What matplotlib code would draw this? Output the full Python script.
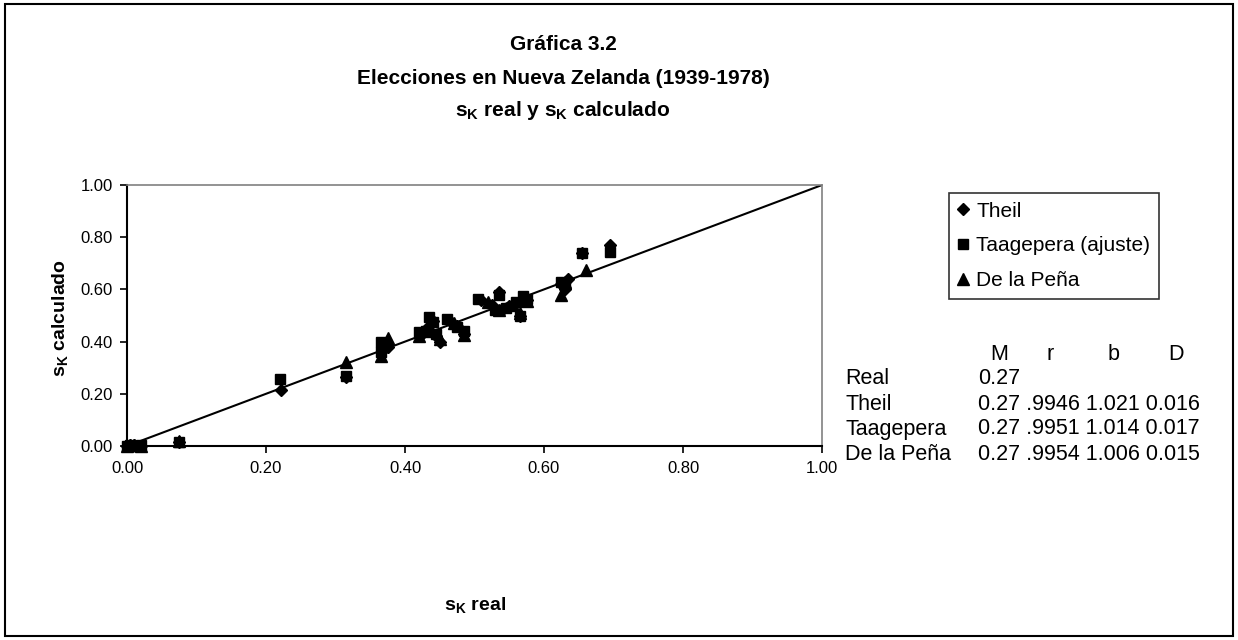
import matplotlib
matplotlib.use("Agg")
import matplotlib.pyplot as plt
from matplotlib.patches import Rectangle
from matplotlib.lines import Line2D

plt.rcParams['font.family'] = ['Liberation Sans', 'DejaVu Sans']
plt.rcParams['mathtext.fontset'] = 'custom'
plt.rcParams['mathtext.rm'] = 'Liberation Sans:bold'
plt.rcParams['mathtext.it'] = 'Liberation Sans:bold'
plt.rcParams['mathtext.bf'] = 'Liberation Sans:bold'
plt.rcParams['mathtext.default'] = 'rm'

# ---- data (s_K real, s_K calculado) ----
theil_x = [0.000, 0.005, 0.010, 0.020, 0.075, 0.222, 0.315, 0.370, 0.375,
           0.425, 0.435, 0.440, 0.445, 0.450, 0.465, 0.475, 0.485,
           0.510, 0.525, 0.535, 0.540, 0.550, 0.565, 0.570, 0.575,
           0.625, 0.630, 0.635, 0.655, 0.695]
theil_y = [0.000, 0.005, 0.005, 0.000, 0.015, 0.215, 0.265, 0.370, 0.380,
           0.430, 0.460, 0.480, 0.420, 0.400, 0.480, 0.460, 0.430,
           0.560, 0.540, 0.590, 0.520, 0.535, 0.500, 0.555, 0.560,
           0.620, 0.600, 0.640, 0.740, 0.770]

taag_x = [0.000, 0.005, 0.010, 0.020, 0.075, 0.220, 0.315, 0.365, 0.370,
          0.365, 0.420, 0.430, 0.435, 0.440, 0.445, 0.460, 0.475, 0.485,
          0.505, 0.530, 0.535, 0.545, 0.560, 0.565, 0.570, 0.575,
          0.625, 0.630, 0.655, 0.695]
taag_y = [0.000, 0.005, 0.000, 0.005, 0.015, 0.255, 0.270, 0.400, 0.380,
          0.360, 0.435, 0.440, 0.495, 0.475, 0.430, 0.485, 0.455, 0.440,
          0.565, 0.520, 0.580, 0.530, 0.550, 0.500, 0.575, 0.565,
          0.630, 0.615, 0.740, 0.745]

pena_x = [0.000, 0.005, 0.010, 0.020, 0.075, 0.315, 0.365, 0.375,
          0.420, 0.435, 0.450, 0.470, 0.485,
          0.520, 0.535, 0.555, 0.565, 0.575,
          0.625, 0.630, 0.660]
pena_y = [0.000, 0.005, 0.005, 0.000, 0.020, 0.320, 0.345, 0.415,
          0.420, 0.440, 0.410, 0.470, 0.425,
          0.550, 0.520, 0.540, 0.510, 0.555,
          0.580, 0.630, 0.675]

xticks = [0.0, 0.2, 0.4, 0.6, 0.8, 1.0]
yticks = [0.0, 0.2, 0.4, 0.6, 0.8, 1.0]

series_names = ["Theil", "Taagepera (ajuste)", "De la Peña"]

table_cols = ["M", "r", "b", "D"]
table_rows = ["Real", "Theil", "Taagepera", "De la Peña"]
table_vals = ["0.27",
              "0.27 .9946 1.021 0.016",
              "0.27 .9951 1.014 0.017",
              "0.27 .9954 1.006 0.015"]

W, H = 1238, 640
fig = plt.figure(figsize=(W / 100, H / 100), dpi=100)
fig.patch.set_facecolor("white")

# outer border
fig.patches.append(Rectangle((5 / W, 4 / H), (W - 10) / W, (H - 8) / H,
                             transform=fig.transFigure, fill=False,
                             edgecolor="black", linewidth=1.5))

ax = fig.add_axes([127 / W, 1 - 446 / H, (822 - 127) / W, (446 - 185) / H])
ax.set_xlim(0, 1)
ax.set_ylim(0, 1)
ax.set_xticks(xticks)
ax.set_yticks(yticks)
ax.set_xticklabels([f"{v:.2f}" for v in xticks])
ax.set_yticklabels([f"{v:.2f}" for v in yticks])
ax.tick_params(axis="both", direction="out", length=5, width=1.2,
               labelsize=12, colors="black")
ax.tick_params(axis="x", pad=6)
ax.tick_params(axis="y", pad=5)
for s in ["left", "bottom"]:
    ax.spines[s].set_color("black")
    ax.spines[s].set_linewidth(1.5)
for s in ["top", "right"]:
    ax.spines[s].set_color("#808080")
    ax.spines[s].set_linewidth(1.2)

ax.plot([0, 1], [0, 1], color="black", linewidth=1.5, zorder=2)

ax.plot(taag_x, taag_y, linestyle="none", marker="s", ms=7,
        color="black", zorder=3, clip_on=False)
ax.plot(pena_x, pena_y, linestyle="none", marker="^", ms=8,
        color="black", zorder=3, clip_on=False)
ax.plot(theil_x, theil_y, linestyle="none", marker="D", ms=6,
        color="black", zorder=4, clip_on=False)

# titles
tx = 563 / W
fig.text(tx, 1 - 45 / H, "Gráfica 3.2", ha="center", va="center",
         fontsize=15, fontweight="bold")
fig.text(tx, 1 - 78 / H, "Elecciones en Nueva Zelanda (1939-1978)",
         ha="center", va="center", fontsize=15, fontweight="bold")
fig.text(tx, 1 - 111 / H, r"s$_{K}$ real y s$_{K}$ calculado",
         ha="center", va="center", fontsize=15, fontweight="bold")

fig.text(60 / W, 1 - 318 / H, r"s$_{K}$ calculado", ha="center", va="center",
         rotation=90, fontsize=14, fontweight="bold")
fig.text(475 / W, 1 - 605 / H, r"s$_{K}$ real", ha="center", va="center",
         fontsize=14, fontweight="bold")

# legend
handles = [Line2D([], [], linestyle="none", marker="D", ms=6.5, color="black"),
           Line2D([], [], linestyle="none", marker="s", ms=7.5, color="black"),
           Line2D([], [], linestyle="none", marker="^", ms=8.5, color="black")]
leg = fig.legend(handles, series_names, loc="upper left",
                 bbox_to_anchor=(949 / W, 1 - 193 / H), fontsize=15,
                 frameon=True, fancybox=False, edgecolor="black",
                 handlelength=0.55, handletextpad=0.35, labelspacing=0.75,
                 borderpad=0.42, borderaxespad=0)
leg.get_frame().set_linewidth(1.2)

# statistics table
hdr_x = [999, 1050, 1114, 1176]
hdr_y = 354
for c, xp in zip(table_cols, hdr_x):
    fig.text(xp / W, 1 - hdr_y / H, c, ha="center", va="center", fontsize=15.5)
row_y = [379, 404, 429, 454]
for lbl, val, yp in zip(table_rows, table_vals, row_y):
    fig.text(845 / W, 1 - yp / H, lbl, ha="left", va="center", fontsize=15.5)
    fig.text(978 / W, 1 - yp / H, val, ha="left", va="center", fontsize=15.5)

fig.savefig("out.png", dpi=100)
